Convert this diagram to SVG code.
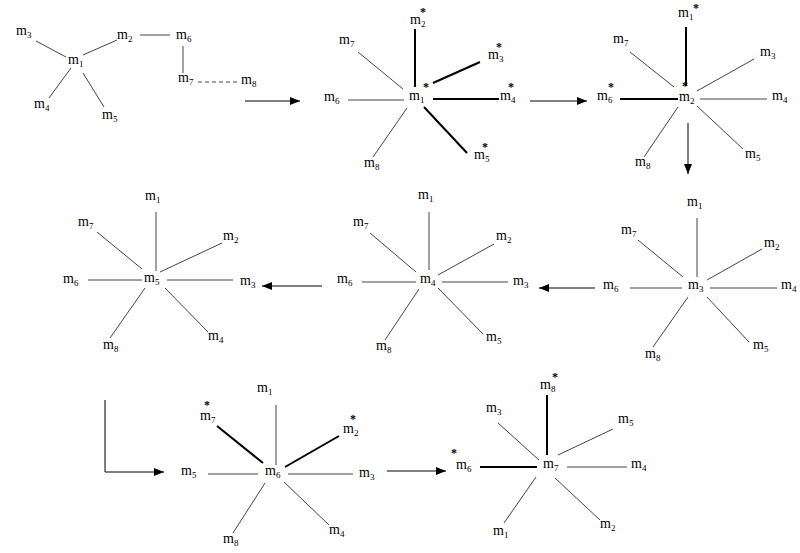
<svg xmlns="http://www.w3.org/2000/svg" width="800" height="553" viewBox="0 0 800 553">
<defs>
<style>
.lb{font-family:"Liberation Serif","Times New Roman",serif;font-size:14px;fill:#000}
.sb{font-size:9px}
.st{font-family:"Liberation Serif","Times New Roman",serif;font-size:12px;font-weight:bold;fill:#000;text-anchor:middle}
.tn{stroke:#444;stroke-width:1;fill:none}
.tk{stroke:#000;stroke-width:2;fill:none}
.ar{stroke:#000;stroke-width:1;fill:none;marker-end:url(#ah)}
.ds{stroke:#444;stroke-width:1;stroke-dasharray:4 3;fill:none}
</style>
<marker id="ah" viewBox="0 0 10 8" refX="10" refY="4" markerWidth="10" markerHeight="8" markerUnits="userSpaceOnUse" orient="auto">
<path d="M0,0 L10,4 L0,8 Z" fill="#000"/>
</marker>
</defs>
<rect width="800" height="553" fill="#fff"/>

<g id="connectors">
<line class="tn" x1="36" y1="41" x2="66" y2="57"/>
<line class="tn" x1="83" y1="55" x2="117" y2="40"/>
<line class="tn" x1="140" y1="35" x2="170" y2="35"/>
<line class="tn" x1="183" y1="46" x2="183" y2="73"/>
<line class="ds" x1="198" y1="82" x2="238" y2="82"/>
<line class="tn" x1="71" y1="68" x2="49" y2="98"/>
<line class="tn" x1="83" y1="73" x2="104" y2="107"/>
<line class="ar" x1="245" y1="101" x2="300" y2="101"/>
<line class="tk" x1="415" y1="29" x2="415" y2="87"/>
<line class="tn" x1="358" y1="52" x2="403" y2="89"/>
<line class="tk" x1="433" y1="83" x2="480" y2="62"/>
<line class="tn" x1="348" y1="100" x2="404" y2="100" stroke="#000"/>
<line class="tk" x1="433" y1="99" x2="499" y2="99"/>
<line class="tk" x1="424" y1="107" x2="467" y2="153"/>
<line class="tn" x1="407" y1="108" x2="373" y2="157"/>
<line class="ar" x1="530" y1="101" x2="587" y2="101"/>
<line class="tk" x1="686" y1="27" x2="686" y2="86"/>
<line class="tn" x1="630" y1="52" x2="674" y2="87"/>
<line class="tn" x1="697" y1="91" x2="754" y2="59"/>
<line class="tk" x1="620" y1="99" x2="678" y2="99"/>
<line class="tn" x1="700" y1="99" x2="767" y2="99"/>
<line class="tn" x1="697" y1="106" x2="743" y2="149"/>
<line class="tn" x1="678" y1="107" x2="644" y2="157"/>
<line class="ar" x1="688" y1="123" x2="688" y2="174"/>
<line class="tn" x1="697" y1="218" x2="697" y2="277"/>
<line class="tn" x1="638" y1="240" x2="683" y2="277"/>
<line class="tn" x1="707" y1="280" x2="762" y2="249"/>
<line class="tn" x1="630" y1="288" x2="682" y2="288"/>
<line class="tn" x1="710" y1="288" x2="777" y2="288"/>
<line class="tn" x1="707" y1="297" x2="749" y2="342"/>
<line class="tn" x1="688" y1="297" x2="653" y2="347"/>
<line class="ar" x1="595" y1="288" x2="539" y2="288"/>
<line class="tn" x1="429" y1="212" x2="429" y2="270"/>
<line class="tn" x1="370" y1="233" x2="416" y2="272"/>
<line class="tn" x1="438" y1="275" x2="494" y2="244"/>
<line class="tn" x1="362" y1="282" x2="416" y2="282" stroke="#000"/>
<line class="tn" x1="442" y1="282" x2="508" y2="282" stroke="#000"/>
<line class="tn" x1="438" y1="288" x2="483" y2="334"/>
<line class="tn" x1="419" y1="289" x2="385" y2="340"/>
<line class="ar" x1="322" y1="286" x2="262" y2="286"/>
<line class="tn" x1="156" y1="212" x2="156" y2="271"/>
<line class="tn" x1="97" y1="232" x2="142" y2="269"/>
<line class="tn" x1="160" y1="272" x2="222" y2="243"/>
<line class="tn" x1="88" y1="280" x2="142" y2="280" stroke="#000"/>
<line class="tn" x1="167" y1="280" x2="233" y2="280" stroke="#000"/>
<line class="tn" x1="165" y1="288" x2="208" y2="332"/>
<line class="tn" x1="145" y1="288" x2="110" y2="338"/>
<polyline class="ar" points="105,400 105,472 164,472"/>
<line class="tn" x1="276" y1="405" x2="276" y2="465"/>
<line class="tk" x1="217" y1="426" x2="263" y2="463"/>
<line class="tk" x1="285" y1="467" x2="339" y2="436"/>
<line class="tn" x1="208" y1="474" x2="258" y2="474"/>
<line class="tn" x1="288" y1="474" x2="353" y2="474"/>
<line class="tn" x1="284" y1="482" x2="329" y2="525"/>
<line class="tn" x1="265" y1="483" x2="233" y2="533"/>
<line class="ar" x1="387" y1="471" x2="446" y2="471"/>
<line class="tk" x1="547" y1="395" x2="547" y2="455"/>
<line class="tn" x1="498" y1="423" x2="539" y2="460"/>
<line class="tn" x1="558" y1="455" x2="613" y2="429"/>
<line class="tk" x1="480" y1="467" x2="537" y2="467"/>
<line class="tn" x1="567" y1="467" x2="627" y2="467" stroke="#000"/>
<line class="tn" x1="555" y1="478" x2="600" y2="520"/>
<line class="tn" x1="504" y1="523" x2="536" y2="477"/>
</g>

<g id="a-m3"><text class="lb" x="16" y="35">m<tspan class="sb" dy="3">3</tspan></text></g>
<g id="a-m1"><text class="lb" x="68" y="64">m<tspan class="sb" dy="3">1</tspan></text></g>
<g id="a-m2"><text class="lb" x="117" y="39">m<tspan class="sb" dy="3">2</tspan></text></g>
<g id="a-m6"><text class="lb" x="176" y="39">m<tspan class="sb" dy="3">6</tspan></text></g>
<g id="a-m7"><text class="lb" x="178" y="82">m<tspan class="sb" dy="3">7</tspan></text></g>
<g id="a-m8"><text class="lb" x="241" y="84">m<tspan class="sb" dy="3">8</tspan></text></g>
<g id="a-m4"><text class="lb" x="34" y="108">m<tspan class="sb" dy="3">4</tspan></text></g>
<g id="a-m5"><text class="lb" x="102" y="119">m<tspan class="sb" dy="3">5</tspan></text></g>

<g id="b-m2"><text class="lb" x="410" y="24">m<tspan class="sb" dy="3">2</tspan></text><text class="st" x="423" y="16">*</text></g>
<g id="b-m7"><text class="lb" x="339" y="44">m<tspan class="sb" dy="3">7</tspan></text></g>
<g id="b-m3"><text class="lb" x="488" y="59">m<tspan class="sb" dy="3">3</tspan></text><text class="st" x="499" y="51">*</text></g>
<g id="b-m1"><text class="lb" x="409" y="100">m<tspan class="sb" dy="3">1</tspan></text><text class="st" x="426" y="91">*</text></g>
<g id="b-m6"><text class="lb" x="324" y="101">m<tspan class="sb" dy="3">6</tspan></text></g>
<g id="b-m4"><text class="lb" x="500" y="100">m<tspan class="sb" dy="3">4</tspan></text><text class="st" x="511" y="91">*</text></g>
<g id="b-m5"><text class="lb" x="474" y="159">m<tspan class="sb" dy="3">5</tspan></text><text class="st" x="485" y="151">*</text></g>
<g id="b-m8"><text class="lb" x="364" y="167">m<tspan class="sb" dy="3">8</tspan></text></g>

<g id="c-m1"><text class="lb" x="678" y="17">m<tspan class="sb" dy="3">1</tspan></text><text class="st" x="696" y="12">*</text></g>
<g id="c-m7"><text class="lb" x="613" y="43">m<tspan class="sb" dy="3">7</tspan></text></g>
<g id="c-m3"><text class="lb" x="760" y="56">m<tspan class="sb" dy="3">3</tspan></text></g>
<g id="c-m6"><text class="lb" x="597" y="100">m<tspan class="sb" dy="3">6</tspan></text><text class="st" x="611" y="91">*</text></g>
<g id="c-m2"><text class="lb" x="679" y="101">m<tspan class="sb" dy="3">2</tspan></text><text class="st" x="685" y="90">*</text></g>
<g id="c-m4"><text class="lb" x="772" y="100">m<tspan class="sb" dy="3">4</tspan></text></g>
<g id="c-m5"><text class="lb" x="745" y="158">m<tspan class="sb" dy="3">5</tspan></text></g>
<g id="c-m8"><text class="lb" x="635" y="166">m<tspan class="sb" dy="3">8</tspan></text></g>

<g id="d-m1"><text class="lb" x="687" y="206">m<tspan class="sb" dy="3">1</tspan></text></g>
<g id="d-m7"><text class="lb" x="621" y="234">m<tspan class="sb" dy="3">7</tspan></text></g>
<g id="d-m2"><text class="lb" x="764" y="247">m<tspan class="sb" dy="3">2</tspan></text></g>
<g id="d-m6"><text class="lb" x="603" y="289">m<tspan class="sb" dy="3">6</tspan></text></g>
<g id="d-m3"><text class="lb" x="688" y="289">m<tspan class="sb" dy="3">3</tspan></text></g>
<g id="d-m4"><text class="lb" x="781" y="289">m<tspan class="sb" dy="3">4</tspan></text></g>
<g id="d-m5"><text class="lb" x="753" y="349">m<tspan class="sb" dy="3">5</tspan></text></g>
<g id="d-m8"><text class="lb" x="645" y="358">m<tspan class="sb" dy="3">8</tspan></text></g>

<g id="e-m1"><text class="lb" x="418" y="199">m<tspan class="sb" dy="3">1</tspan></text></g>
<g id="e-m7"><text class="lb" x="353" y="226">m<tspan class="sb" dy="3">7</tspan></text></g>
<g id="e-m2"><text class="lb" x="496" y="240">m<tspan class="sb" dy="3">2</tspan></text></g>
<g id="e-m6"><text class="lb" x="337" y="283">m<tspan class="sb" dy="3">6</tspan></text></g>
<g id="e-m4"><text class="lb" x="420" y="283">m<tspan class="sb" dy="3">4</tspan></text></g>
<g id="e-m3"><text class="lb" x="513" y="285">m<tspan class="sb" dy="3">3</tspan></text></g>
<g id="e-m5"><text class="lb" x="486" y="341">m<tspan class="sb" dy="3">5</tspan></text></g>
<g id="e-m8"><text class="lb" x="376" y="350">m<tspan class="sb" dy="3">8</tspan></text></g>

<g id="f-m1"><text class="lb" x="145" y="200">m<tspan class="sb" dy="3">1</tspan></text></g>
<g id="f-m7"><text class="lb" x="78" y="226">m<tspan class="sb" dy="3">7</tspan></text></g>
<g id="f-m2"><text class="lb" x="223" y="240">m<tspan class="sb" dy="3">2</tspan></text></g>
<g id="f-m6"><text class="lb" x="63" y="283">m<tspan class="sb" dy="3">6</tspan></text></g>
<g id="f-m5"><text class="lb" x="144" y="282">m<tspan class="sb" dy="3">5</tspan></text></g>
<g id="f-m3"><text class="lb" x="240" y="285">m<tspan class="sb" dy="3">3</tspan></text></g>
<g id="f-m4"><text class="lb" x="208" y="340">m<tspan class="sb" dy="3">4</tspan></text></g>
<g id="f-m8"><text class="lb" x="103" y="349">m<tspan class="sb" dy="3">8</tspan></text></g>

<g id="g-m1"><text class="lb" x="257" y="392">m<tspan class="sb" dy="3">1</tspan></text></g>
<g id="g-m7"><text class="lb" x="200" y="420">m<tspan class="sb" dy="3">7</tspan></text><text class="st" x="207" y="409">*</text></g>
<g id="g-m2"><text class="lb" x="343" y="433">m<tspan class="sb" dy="3">2</tspan></text><text class="st" x="353" y="423">*</text></g>
<g id="g-m5"><text class="lb" x="181" y="475">m<tspan class="sb" dy="3">5</tspan></text></g>
<g id="g-m6"><text class="lb" x="265" y="475">m<tspan class="sb" dy="3">6</tspan></text></g>
<g id="g-m3"><text class="lb" x="359" y="477">m<tspan class="sb" dy="3">3</tspan></text></g>
<g id="g-m4"><text class="lb" x="329" y="534">m<tspan class="sb" dy="3">4</tspan></text></g>
<g id="g-m8"><text class="lb" x="223" y="543">m<tspan class="sb" dy="3">8</tspan></text></g>

<g id="h-m8"><text class="lb" x="540" y="389">m<tspan class="sb" dy="3">8</tspan></text><text class="st" x="555" y="381">*</text></g>
<g id="h-m3"><text class="lb" x="486" y="412">m<tspan class="sb" dy="3">3</tspan></text></g>
<g id="h-m5"><text class="lb" x="618" y="423">m<tspan class="sb" dy="3">5</tspan></text></g>
<g id="h-m6"><text class="lb" x="456" y="469">m<tspan class="sb" dy="3">6</tspan></text><text class="st" x="454" y="457">*</text></g>
<g id="h-m7"><text class="lb" x="543" y="468">m<tspan class="sb" dy="3">7</tspan></text></g>
<g id="h-m4"><text class="lb" x="631" y="468">m<tspan class="sb" dy="3">4</tspan></text></g>
<g id="h-m2"><text class="lb" x="600" y="528">m<tspan class="sb" dy="3">2</tspan></text></g>
<g id="h-m1"><text class="lb" x="493" y="535">m<tspan class="sb" dy="3">1</tspan></text></g>
</svg>
